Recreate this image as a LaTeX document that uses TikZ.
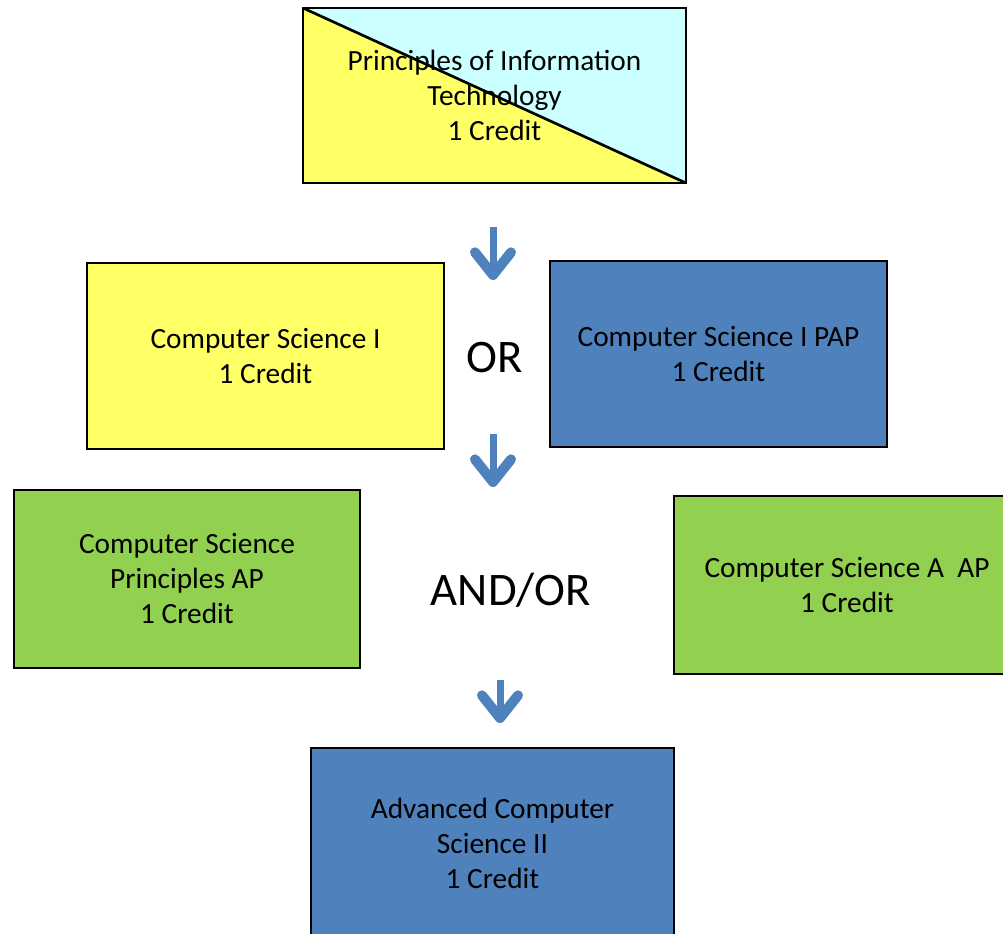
\documentclass[tikz,border=0pt]{standalone}
\usepackage{fontspec}
\setmainfont{Carlito}
\usepackage{tikz}
\usetikzlibrary{arrows.meta}

\definecolor{ityellow}{HTML}{FFFF66}
\definecolor{itcyan}{HTML}{CCFFFF}
\definecolor{itblue}{HTML}{4F81BD}
\definecolor{itgreen}{HTML}{92D050}

\begin{document}
\begin{tikzpicture}[x=0.75pt,y=-0.75pt,
    course/.style={draw=black,line width=2.2pt,align=center,inner sep=0pt,
        font=\fontsize{22}{26.25}\selectfont},
    splitbox/.style={course,fill=ityellow,
        path picture={
            \fill[itcyan] (path picture bounding box.north west) -- (path picture bounding box.north east)
                -- (path picture bounding box.south east) -- cycle;
            \draw[line width=2pt] (path picture bounding box.north west) -- (path picture bounding box.south east);
        }},
    choice/.style={font=\fontsize{35}{40}\selectfont},
    flow/.style={draw=itblue,line width=5.25pt,-{Straight Barb[length=17pt,width=27pt,round,line width=7.5pt]}}]
            \clip (0,0) rectangle (1003,933);

            \node[splitbox,minimum width=287.25pt,minimum height=131.25pt] (pit) at (494.5,95.5){Principles of Information\\Technology\\1 Credit};

            \node[course,fill=ityellow,minimum width=267.75pt,minimum height=139.5pt] (csone) at (265.5,356){Computer Science I\\1 Credit};
            \node[course,fill=itblue,minimum width=252.75pt,minimum height=139.5pt] (csonepap) at (718.5,354){Computer Science I PAP\\1 Credit};
            \node[choice] (or) at (495,358){OR};

            \node[course,fill=itgreen,minimum width=259.5pt,minimum height=133.5pt] (csp) at (187,579){Computer Science\\Principles AP\\1 Credit};
            \node[course,fill=itgreen,minimum width=259.5pt,minimum height=133.5pt] (csa) at (847,585){Computer Science A\ \ AP\\1 Credit};
            \node[choice] (andor) at (511,590){AND/OR};

            \node[course,fill=itblue,minimum width=272.25pt,minimum height=142.5pt] (adv) at (492.5,843){Advanced Computer\\Science II\\1 Credit};

            \coordinate (arrowa) at (493,227);
            \coordinate (arrowb) at (493,280);
            \coordinate (arrowc) at (493,434);
            \coordinate (arrowd) at (493,487);
            \coordinate (arrowe) at (500,680);
            \coordinate (arrowf) at (500,723);
            \draw[flow] (arrowa) -- (arrowb);
            \draw[flow] (arrowc) -- (arrowd);
            \draw[flow] (arrowe) -- (arrowf);
        \end{tikzpicture}
\end{document}
